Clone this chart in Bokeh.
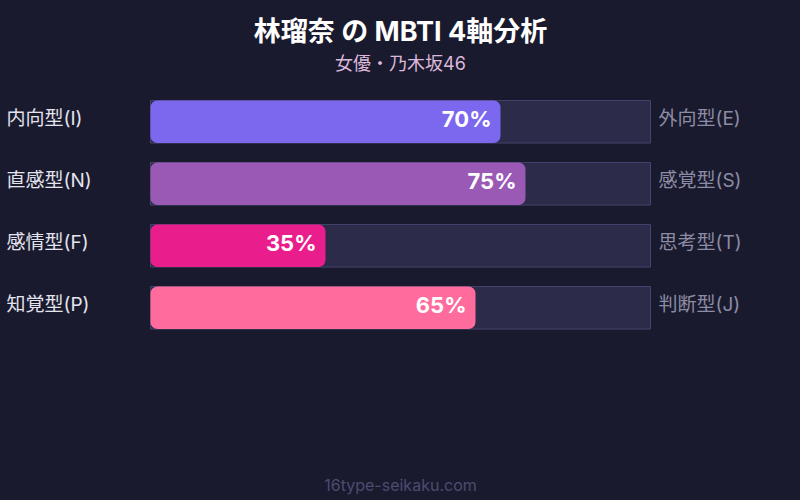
from bokeh.plotting import figure
from bokeh.models import Range1d, Label, ColumnDataSource
from bokeh.core.properties import value
from bokeh.embed import file_html
from bokeh.resources import INLINE

# ---- data ----
title_text = "林瑠奈 の MBTI 4軸分析"
subtitle_text = "女優・乃木坂46"
footer_text = "16type-seikaku.com"
left_labels = ["内向型(I)", "直感型(N)", "感情型(F)", "知覚型(P)"]
right_labels = ["外向型(E)", "感覚型(S)", "思考型(T)", "判断型(J)"]
percents = [70, 75, 35, 65]
bar_colors = ["#7b68ee", "#9b59b6", "#e91e8c", "#ff6b9d"]

W, H = 800, 500
FONT = "Inter, Noto Sans CJK JP"
BG = "#1a1a2e"

rows = list(range(len(percents)))
# pixel mapping: x 0..100 -> 150..650 px ; row pitch 62px, first centre at 121px
x0_px, px_per_unit = 150, 5.0
y0_px, pitch = 121.3, 62.0
p = figure(width=W, height=H, output_backend="svg", toolbar_location=None,
           x_range=Range1d(-x0_px / px_per_unit, (W - x0_px) / px_per_unit),
           y_range=Range1d((H - y0_px) / pitch, -y0_px / pitch),
           min_border=0, min_border_left=0, min_border_right=0,
           min_border_top=0, min_border_bottom=0)
p.axis.visible = False
p.grid.visible = False
p.outline_line_color = None
p.background_fill_color = BG
p.border_fill_color = BG

src = ColumnDataSource(dict(
    y=rows, v=percents, c=bar_colors, full=[100] * len(rows),
    ll=left_labels, rl=right_labels, pt=[f"{v}%" for v in percents],
))
bh = 42.5 / pitch
p.hbar(y="y", left=0, right="full", height=bh, source=src,
       fill_color="#2d2b4a", line_color="#46446c", line_width=1)
p.hbar(y="y", left=0, right="v", height=bh, source=src,
       fill_color="c", line_color=None, border_radius=7)

p.text(x=-28.8, y="y", text="ll", source=src, text_font=value(FONT),
       text_font_size="19px", text_color="#e4e4ee", text_align="left",
       text_baseline="middle", y_offset=-3)
p.text(x=101.6, y="y", text="rl", source=src, text_font=value(FONT),
       text_font_size="19px", text_color="#8c8ca4", text_align="left",
       text_baseline="middle", y_offset=-3)
p.text(x="v", y="y", text="pt", source=src, text_font=value(FONT),
       text_font_size="22px", text_font_style="bold", text_color="#ffffff",
       text_align="right", text_baseline="middle", x_offset=-9, y_offset=-3)

p.add_layout(Label(x=W / 2, y=H - 31, x_units="screen", y_units="screen",
                   text=title_text, text_font=FONT, text_font_size="27px",
                   text_font_style="bold", text_color="#ffffff",
                   text_align="center", text_baseline="middle"))
p.add_layout(Label(x=W / 2, y=H - 63, x_units="screen", y_units="screen",
                   text=subtitle_text, text_font=FONT, text_font_size="18px",
                   text_color="#dcb8dc", text_align="center",
                   text_baseline="middle"))
p.add_layout(Label(x=W / 2, y=H - 484, x_units="screen", y_units="screen",
                   text=footer_text, text_font=FONT, text_font_size="16px",
                   text_color="#4c4c6e", text_align="center",
                   text_baseline="middle"))

html = file_html(p, INLINE)
html = html.replace("</head>",
                    "<style>html,body{margin:0;padding:0;background:%s;overflow:hidden}</style></head>" % BG, 1)
open("out.html", "w").write(html)
